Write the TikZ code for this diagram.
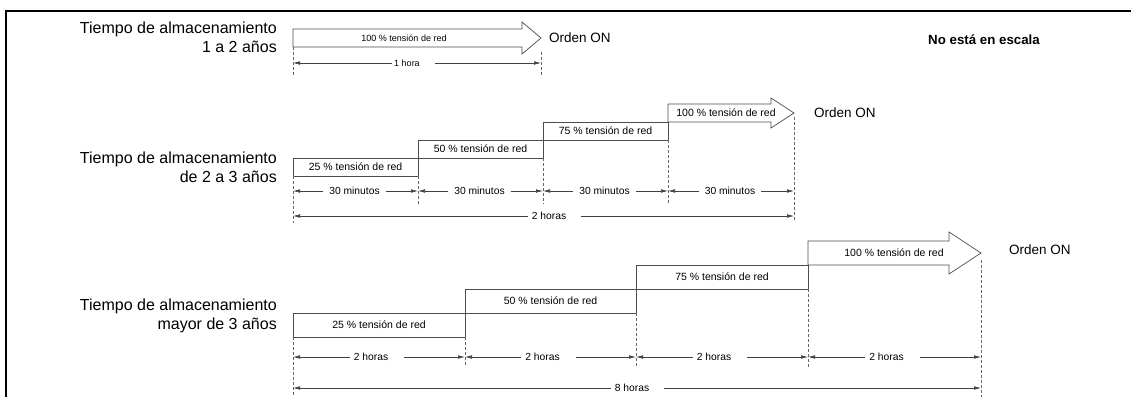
\documentclass[tikz,border=0pt]{standalone}
\usepackage{fontspec}
\setmainfont{Liberation Sans}
\usetikzlibrary{arrows.meta}
\begin{document}
\begin{tikzpicture}[x=1pt,y=-1pt,
  boxline/.style={draw=black!70,line width=0.7pt},
  stepbox/.style={boxline,inner sep=0pt,font=\fontsize{10.5}{12}\selectfont},
  arrowtext/.style={inner sep=0pt,font=\fontsize{10.5}{12}\selectfont},
  dashline/.style={draw=black!60,line width=0.6pt,dash pattern=on 3pt off 2pt},
  dim/.style={draw=black!75,line width=0.6pt,-{Latex[length=7pt,width=3.6pt]}},
  dimlab/.style={inner sep=0pt,font=\fontsize{10.3}{12}\selectfont},
  side/.style={align=right,anchor=east,font=\fontsize{16}{19}\selectfont,inner sep=0pt},
  order/.style={anchor=west,font=\fontsize{13.5}{16}\selectfont,inner sep=0pt}]
\useasboundingbox (0,0) rectangle (1131,396);
% frame
\draw[line width=2pt] (6,398) -- (6,11) -- (1133,11);
\node[font=\bfseries\fontsize{13.3}{16}\selectfont,inner sep=0pt] (scale) at (984,40) {No está en escala};

% ---------- section 1 ----------
\node[side] (t1) at (277,37.5) {Tiempo de almacenamiento\\1 a 2 años};
\draw[boxline] (293,29) -- (522,29) -- (522,22) -- (541,38) -- (522,54) -- (522,47) -- (293,47) -- cycle;
\node[inner sep=0pt,font=\fontsize{9}{11}\selectfont] (a1) at (404,38) {100 \% tensión de red};
\node[order] (o1) at (549,38) {Orden ON};
\draw[dashline] (293,47) -- (293,77);
\draw[dashline] (541,52) -- (541,77);
\coordinate (p1a) at (293,63);
\coordinate (p1b) at (541,63);
\node[dimlab,font=\fontsize{9}{11}\selectfont] (h1) at (407,63) {1 hora};
\draw[dim] ([xshift=-2pt]h1.west) -- (p1a);
\draw[dim] ([xshift=15pt]h1.east) -- (p1b);

% ---------- section 2 ----------
\node[side] (t2) at (277,167) {Tiempo de almacenamiento\\de 2 a 3 años};
\node[stepbox,minimum width=125pt,minimum height=18pt] (b21) at (355.5,167) {25 \% tensión de red};
\node[stepbox,minimum width=125pt,minimum height=18pt] (b22) at (480.5,149) {50 \% tensión de red};
\node[stepbox,minimum width=125pt,minimum height=18pt] (b23) at (605.5,131) {75 \% tensión de red};
\draw[boxline] (668,104) -- (771,104) -- (771,98) -- (794,113) -- (771,128) -- (771,122) -- (668,122) -- cycle;
\node[arrowtext] (a2) at (726,113) {100 \% tensión de red};
\node[order] (o2) at (814,113) {Orden ON};
\draw[dashline] (293,176) -- (293,223);
\draw[dashline] (418,176) -- (418,204);
\draw[dashline] (543,158) -- (543,204);
\draw[dashline] (668,140) -- (668,204);
\draw[dashline] (794,117) -- (794,220);
\foreach \i/\xa/\xb in {1/293/418, 2/418/543, 3/543/668, 4/668/794}{
  \coordinate (q\i a) at (\xa,191);
  \coordinate (q\i b) at (\xb,191);
  \node[dimlab] (m\i) at ({(\xa+\xb)/2-1},191) {30 minutos};
  \draw[dim] ([xshift=-6pt]m\i.west) -- (q\i a);
  \draw[dim] ([xshift=6pt]m\i.east) -- (q\i b);
}
\coordinate (p2a) at (293,216);
\coordinate (p2b) at (794,216);
\node[dimlab] (h2) at (549,216) {2 horas};
\draw[dim] ([xshift=-4pt]h2.west) -- (p2a);
\draw[dim] ([xshift=15pt]h2.east) -- (p2b);

% ---------- section 3 ----------
\node[side] (t3) at (277,315.5) {Tiempo de almacenamiento\\mayor de 3 años};
\node[stepbox,minimum width=172pt,minimum height=24pt] (b31) at (379,325) {25 \% tensión de red};
\node[stepbox,minimum width=171pt,minimum height=24pt] (b32) at (550.5,301) {50 \% tensión de red};
\node[stepbox,minimum width=172pt,minimum height=24pt] (b33) at (722,277) {75 \% tensión de red};
\draw[boxline] (808,241) -- (949,241) -- (949,232) -- (981,253) -- (949,274) -- (949,265) -- (808,265) -- cycle;
\node[arrowtext] (a3) at (894,253) {100 \% tensión de red};
\node[order] (o3) at (1009,250) {Orden ON};
\draw[dashline] (293,337) -- (293,398);
\draw[dashline] (465,337) -- (465,367);
\draw[dashline] (636,313) -- (636,367);
\draw[dashline] (808,289) -- (808,367);
\draw[dashline] (981,260) -- (981,398);
\foreach \i/\xa/\xb in {1/293/465, 2/465/636, 3/636/808, 4/808/981}{
  \coordinate (r\i a) at (\xa,357);
  \coordinate (r\i b) at (\xb,357);
  \node[dimlab] (n\i) at ({(\xa+\xb)/2-8},357) {2 horas};
  \draw[dim] ([xshift=-4pt]n\i.west) -- (r\i a);
  \draw[dim] ([xshift=16pt]n\i.east) -- (r\i b);
}
\coordinate (p3a) at (293,388);
\coordinate (p3b) at (981,388);
\node[dimlab] (h3) at (632,388) {8 horas};
\draw[dim] ([xshift=-4pt]h3.west) -- (p3a);
\draw[dim] ([xshift=15pt]h3.east) -- (p3b);
\end{tikzpicture}
\end{document}
